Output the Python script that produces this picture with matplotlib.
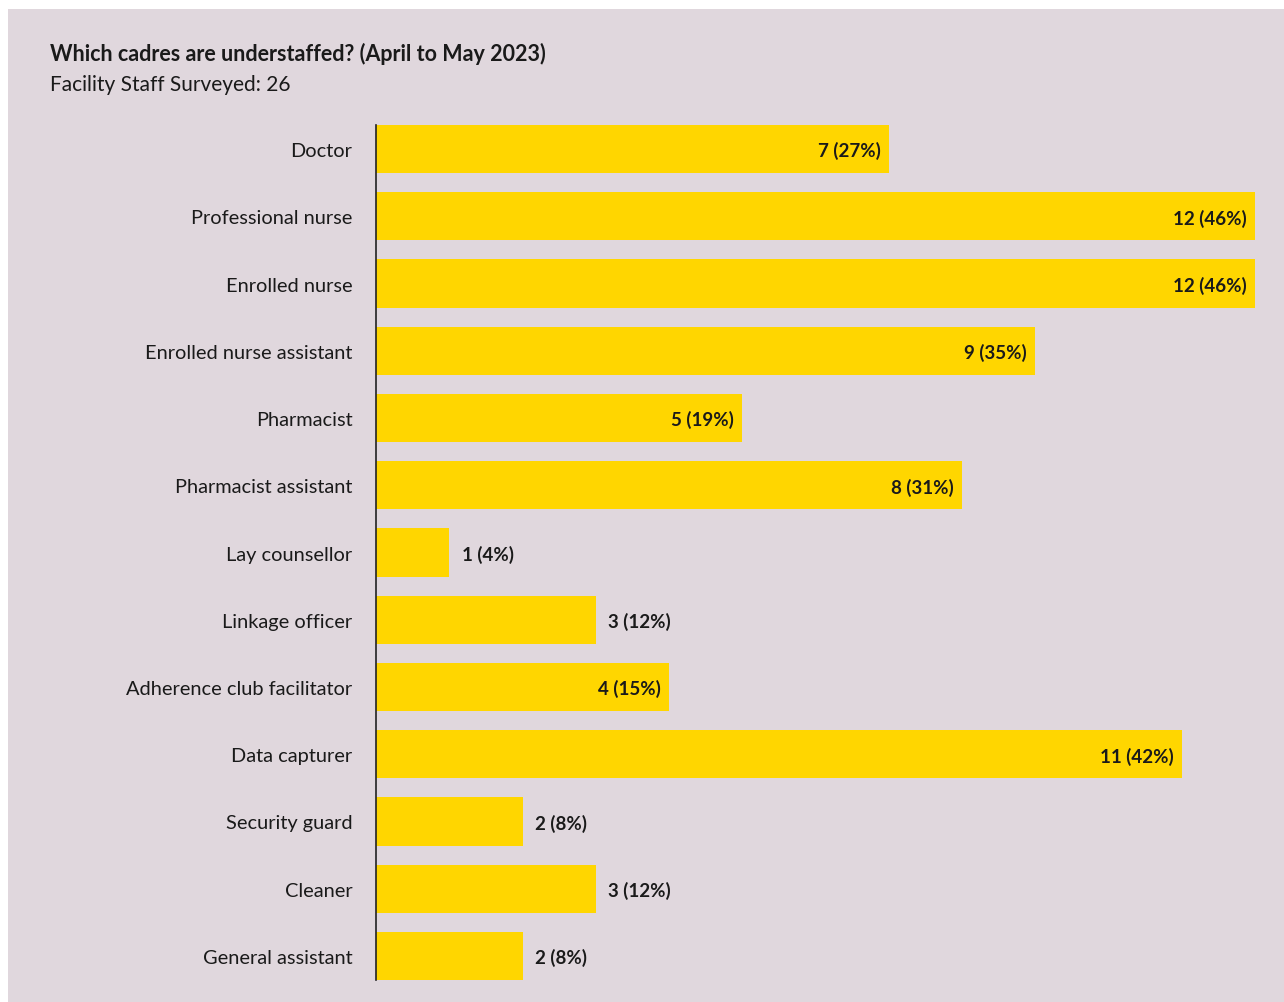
import matplotlib

matplotlib.use("Agg")
import matplotlib.pyplot as plt
from matplotlib.patches import Rectangle

# Staff survey responses: cadres reported as understaffed
cadres = [
    "Doctor",
    "Professional nurse",
    "Enrolled nurse",
    "Enrolled nurse assistant",
    "Pharmacist",
    "Pharmacist assistant",
    "Lay counsellor",
    "Linkage officer",
    "Adherence club facilitator",
    "Data capturer",
    "Security guard",
    "Cleaner",
    "General assistant",
]
counts = [7, 12, 12, 9, 5, 8, 1, 3, 4, 11, 2, 3, 2]
percents = [27, 46, 46, 35, 19, 31, 4, 12, 15, 42, 8, 12, 8]

BG = "#e0d7dd"
BAR = "#ffd600"
INK = "#1a1a1a"

plt.rcParams["font.family"] = ["Lato", "DejaVu Sans"]

W, H = 1284, 1003
fig = plt.figure(figsize=(W / 100, H / 100), dpi=100, facecolor="white")
fig.patches.append(
    Rectangle((8 / W, 0), 1 - 8 / W, 1 - 10 / H, transform=fig.transFigure,
              facecolor=BG, edgecolor="none", zorder=-1)
)

left, right = 376, 1255
top, bottom = 126, 981
ax = fig.add_axes([left / W, 1 - bottom / H, (right - left) / W, (bottom - top) / H])
ax.set_facecolor("none")

ypos = list(range(len(cadres)))
ax.barh(ypos, counts, height=0.714, color=BAR, edgecolor="none")
ax.set_xlim(0, max(counts))
ax.set_ylim(len(cadres) - 1 + 0.357, -0.357)

for y, c, p in zip(ypos, counts, percents):
    label = f"{c} ({p}%)"
    if c >= 4:
        ax.annotate(label, (c, y), xytext=(-6, -1), textcoords="offset points",
                    ha="right", va="center", fontsize=13.5, fontweight="bold", color=INK)
    else:
        ax.annotate(label, (c, y), xytext=(9, -1), textcoords="offset points",
                    ha="left", va="center", fontsize=13.5, fontweight="bold", color=INK)

ax.set_yticks(ypos)
ax.set_yticklabels(cadres, fontsize=14.4, color=INK)
ax.tick_params(axis="y", length=0, pad=17)
ax.set_xticks([])
for side in ["top", "right", "bottom"]:
    ax.spines[side].set_visible(False)
ax.spines["left"].set_color("#222222")
ax.spines["left"].set_linewidth(1.2)

fig.text(50 / W, 1 - 54 / H, "Which cadres are understaffed? (April to May 2023)",
         fontsize=15.5, fontweight="bold", color=INK, va="center", ha="left")
fig.text(50 / W, 1 - 85 / H, "Facility Staff Surveyed: 26",
         fontsize=15, color=INK, va="center", ha="left")

fig.savefig("out.png", dpi=100, facecolor=fig.get_facecolor())
